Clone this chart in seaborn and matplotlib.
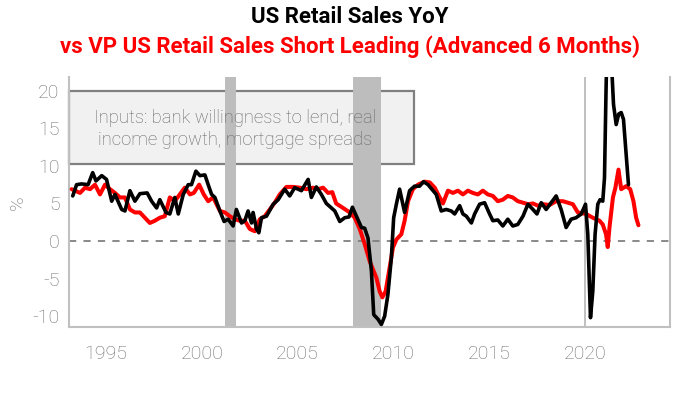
#!/usr/bin/env python3
# US retail sales YoY vs leading indicator

import pandas as pd
import matplotlib
matplotlib.use("Agg")
import matplotlib.pyplot as plt
from matplotlib.patches import Rectangle
import seaborn as sns

# US Retail Sales YoY (black)
sales_year = [1993.27, 1993.47, 1993.73, 1994.07, 1994.31, 1994.48, 1994.78, 1995.03, 1995.3, 1995.47,
              1995.82, 1995.99, 1996.25, 1996.51, 1996.77, 1997.15, 1997.38, 1997.64, 1997.81, 1998.13,
              1998.33, 1998.59, 1998.77, 1999.03, 1999.29, 1999.46, 1999.69, 1999.9, 2000.16, 2000.33,
              2000.51, 2000.68, 2000.94, 2001.16, 2001.37, 2001.63, 2001.8, 2002.07, 2002.24, 2002.41,
              2002.59, 2002.67, 2002.85, 2002.97, 2003.11, 2003.37, 2003.72, 2003.98, 2004.32, 2004.58,
              2004.84, 2005.19, 2005.54, 2005.71, 2005.97, 2006.23, 2006.49, 2006.75, 2006.93, 2007.19,
              2007.45, 2007.67, 2007.85, 2008.06, 2008.32, 2008.49, 2008.66, 2008.84, 2008.96, 2009.18,
              2009.36, 2009.53, 2009.7, 2009.88, 2010.0, 2010.14, 2010.31, 2010.57, 2010.83, 2011.09,
              2011.35, 2011.56, 2011.79, 2012.05, 2012.22, 2012.48, 2012.74, 2013.0, 2013.18, 2013.44,
              2013.61, 2013.79, 2014.05, 2014.22, 2014.48, 2014.74, 2015.0, 2015.17, 2015.43, 2015.69,
              2015.95, 2016.21, 2016.47, 2016.74, 2017.0, 2017.26, 2017.47, 2017.69, 2017.95, 2018.21,
              2018.47, 2018.73, 2018.99, 2019.25, 2019.51, 2019.78, 2020.0, 2020.12, 2020.26, 2020.38,
              2020.5, 2020.64, 2020.76, 2020.9, 2020.99, 2021.07, 2021.2, 2021.33, 2021.46, 2021.6,
              2021.73, 2021.86, 2021.98, 2022.12, 2022.24]
sales_yoy = [6.0, 7.5, 7.6, 7.5, 9.1, 8.0, 8.7, 8.2, 5.3, 6.2,
             4.2, 4.0, 6.7, 5.3, 6.3, 6.4, 5.3, 4.4, 5.5, 3.8,
             3.6, 5.8, 3.6, 6.2, 7.5, 7.5, 9.3, 8.7, 8.8, 7.5,
             6.2, 5.8, 4.0, 2.6, 2.9, 2.0, 4.2, 2.4, 2.7, 4.0,
             2.4, 3.8, 1.6, 1.1, 3.1, 3.3, 4.9, 5.5, 6.9, 6.0,
             7.1, 6.7, 8.2, 5.8, 7.2, 6.2, 5.0, 4.4, 4.0, 2.6,
             3.1, 3.2, 4.5, 3.3, 1.8, 1.7, 0.4, -4.0, -9.8, -10.4,
             -11.1, -10.0, -7.1, -2.2, 3.1, 4.9, 6.9, 3.8, 6.7, 7.3,
             7.3, 7.9, 7.5, 6.7, 6.2, 4.0, 4.2, 4.0, 3.6, 4.7,
             3.6, 3.3, 2.4, 3.6, 4.9, 5.1, 3.6, 2.7, 2.8, 2.0,
             2.9, 2.0, 2.2, 3.3, 4.9, 4.2, 3.6, 5.1, 4.2, 5.1,
             6.0, 4.2, 1.8, 2.9, 3.1, 3.6, 4.9, 0.9, -10.2, -6.7,
             0.9, 4.9, 5.5, 5.3, 8.4, 20.0, 35.0, 25.0, 18.2, 15.5,
             16.9, 17.1, 16.2, 11.5, 7.5]

# VP short leading indicator, advanced 6 months (red)
lead_year = [1993.21, 1993.65, 1993.91, 1994.17, 1994.43, 1994.69, 1994.95, 1995.21, 1995.47, 1995.73,
             1995.99, 1996.25, 1996.51, 1996.77, 1997.03, 1997.29, 1997.55, 1997.81, 1998.07, 1998.33,
             1998.59, 1998.85, 1999.11, 1999.38, 1999.58, 1999.86, 2000.1, 2000.33, 2000.59, 2000.94,
             2001.2, 2001.46, 2001.72, 2001.98, 2002.24, 2002.5, 2002.76, 2003.02, 2003.28, 2003.54,
             2003.8, 2004.06, 2004.41, 2004.76, 2005.1, 2005.45, 2005.8, 2006.06, 2006.32, 2006.58,
             2006.8, 2007.0, 2007.36, 2007.71, 2007.97, 2008.23, 2008.49, 2008.75, 2009.1, 2009.27,
             2009.41, 2009.58, 2009.76, 2009.96, 2010.14, 2010.4, 2010.57, 2010.75, 2011.0, 2011.27,
             2011.61, 2011.88, 2012.14, 2012.4, 2012.57, 2012.83, 2013.09, 2013.35, 2013.61, 2013.87,
             2014.13, 2014.39, 2014.65, 2014.91, 2015.17, 2015.43, 2015.69, 2015.95, 2016.21, 2016.47,
             2016.74, 2017.0, 2017.26, 2017.52, 2017.78, 2018.13, 2018.47, 2018.82, 2019.08, 2019.34,
             2019.6, 2020.03, 2020.38, 2020.73, 2020.9, 2021.07, 2021.16, 2021.25, 2021.43, 2021.56,
             2021.72, 2021.86, 2022.12, 2022.33, 2022.5, 2022.64, 2022.76]
lead_yoy = [6.9, 6.4, 7.1, 6.9, 7.5, 6.2, 7.5, 6.9, 6.4, 5.8,
            5.8, 4.2, 3.8, 3.8, 3.1, 2.4, 2.7, 3.1, 3.3, 5.8,
            5.3, 6.2, 7.1, 6.2, 6.4, 7.5, 6.2, 5.3, 5.8, 4.0,
            3.8, 3.3, 2.9, 2.7, 2.7, 1.6, 1.3, 2.9, 3.3, 4.2,
            5.1, 6.2, 7.2, 7.2, 7.1, 6.9, 7.1, 6.9, 7.1, 6.4,
            6.5, 5.0, 4.4, 3.8, 3.1, 1.6, -0.4, -2.7, -4.9, -6.7,
            -7.5, -6.7, -4.0, -0.9, 0.2, 0.9, 2.7, 5.3, 6.9, 7.5,
            7.9, 7.8, 7.1, 5.8, 5.0, 6.7, 6.4, 6.7, 6.2, 6.7,
            6.4, 6.2, 6.7, 6.2, 6.0, 5.3, 5.5, 6.0, 5.8, 5.3,
            5.1, 4.9, 5.0, 4.7, 4.9, 4.8, 5.3, 5.3, 5.1, 4.9,
            3.8, 3.6, 3.1, 2.7, 2.2, 0.9, -0.8, 1.8, 5.8, 7.1,
            9.5, 6.9, 7.3, 6.9, 5.3, 3.1, 2.1]

# recessions shaded in grey
recessions = [(2001.2, 2001.8), (2007.9, 2009.35)]
box_text = "Inputs: bank willingness to lend, real\nincome growth, mortgage spreads"

sns.set_theme(style="white")
plt.rcParams['font.family'] = ['Roboto', 'DejaVu Sans']
plt.rcParams['axes.unicode_minus'] = False

sales = pd.DataFrame({'year': sales_year, 'yoy': sales_yoy})
lead = pd.DataFrame({'year': lead_year, 'yoy': lead_yoy})

fig = plt.figure(figsize=(7, 3.94), dpi=100)
ax = fig.add_axes([0.099, 0.169, 0.858, 0.635])

x0, x1 = 1993.09, 2024.4
ax.set_xlim(x0, x1)
ax.set_ylim(-11.5, 21.8)

# text box in the top left
ax.add_patch(Rectangle((x0, 10.3), 2011.06 - x0, 9.7, facecolor='#f1f1f1',
                       edgecolor='#808080', linewidth=1.6, zorder=1, clip_on=False))

for start, end in recessions:
    ax.axvspan(start, end, color='#bdbdbd', lw=0, zorder=2)

ax.text(2001.75, 14.9, box_text, ha='center', va='center', fontsize=13.3,
        color='#666666', fontweight='light', linespacing=1.33, zorder=3)

ax.axhline(0, color='#808080', lw=1.3, ls=(0, (4, 4)), zorder=2)
ax.axvline(2020.0, color='#b5b5b5', lw=1.2, zorder=2)

sns.lineplot(data=lead, x='year', y='yoy', color='#ff0000', lw=2.9, estimator=None,
             ax=ax, zorder=4)
sns.lineplot(data=sales, x='year', y='yoy', color='black', lw=2.6, estimator=None,
             ax=ax, zorder=5)

ax.set_xticks([1995, 2000, 2005, 2010, 2015, 2020])
ax.set_yticks([-10, -5, 0, 5, 10, 15, 20])
ax.tick_params(axis='x', direction='out', length=7, width=1.2, color='#b5b5b5',
               labelsize=14, labelcolor='#6e6e6e', pad=6)
ax.tick_params(axis='y', direction='in', length=8, width=1.2, color='#b5b5b5',
               labelsize=14, labelcolor='#6e6e6e', pad=7)
for lab in ax.get_xticklabels() + ax.get_yticklabels():
    lab.set_fontweight('light')

ax.set_xlabel('')
ax.set_ylabel('%', fontsize=14, color='#6e6e6e', fontweight='light', labelpad=4)

for side in ['left', 'bottom', 'right']:
    ax.spines[side].set_color('#c0c0c0')
    ax.spines[side].set_linewidth(1.5)
ax.spines['top'].set_visible(False)

fig.text(0.5, 0.957, 'US Retail Sales YoY', ha='center', va='center',
         fontsize=16, fontweight='bold', color='black')
fig.text(0.5, 0.881, 'vs VP US Retail Sales Short Leading (Advanced 6 Months)',
         ha='center', va='center', fontsize=16, fontweight='bold', color='#ff0000')

fig.savefig('out.png', dpi=100)
plt.close(fig)
